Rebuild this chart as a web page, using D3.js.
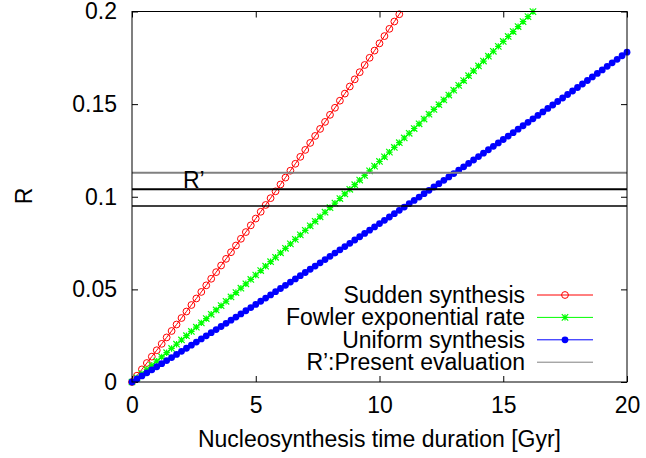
<!DOCTYPE html>
<html>
<head>
<meta charset="utf-8">
<script src="https://cdn.jsdelivr.net/npm/d3@7"></script>
<style>
  html, body { margin: 0; padding: 0; background: #fff; }
  svg { display: block; font-family: "Liberation Sans", Arial, Helvetica, sans-serif; }
</style>
</head>
<body>
<svg id="chart" width="646" height="458"></svg>
<script>
// Synthesis duration grid [Gyr]
const times = [0,0.2,0.4,0.6,0.8,1,1.2,1.4,1.6,1.8,2,2.2,2.4,2.6,2.8,3,3.2,3.4,3.6,3.8,4,4.2,4.4,4.6,4.8,5,5.2,5.4,5.6,5.8,6,6.2,6.4,6.6,6.8,7,7.2,7.4,7.6,7.8,8,8.2,8.4,8.6,8.8,9,9.2,9.4,9.6,9.8,10,10.2,10.4,10.6,10.8,11,11.2,11.4,11.6,11.8,12,12.2,12.4,12.6,12.8,13,13.2,13.4,13.6,13.8,14,14.2,14.4,14.6,14.8,15,15.2,15.4,15.6,15.8,16,16.2,16.4,16.6,16.8,17,17.2,17.4,17.6,17.8,18,18.2,18.4,18.6,18.8,19,19.2,19.4,19.6,19.8,20];

// R for each synthesis model (values beyond the plotted range are left off)
const sudden = [0,0.00341,0.00682,0.01025,0.01369,0.01714,0.02060,0.02406,0.02754,0.03103,0.03453,0.03804,0.04156,0.04508,0.04862,0.05217,0.05573,0.05930,0.06288,0.06647,0.07007,0.07368,0.07730,0.08093,0.08457,0.08823,0.09189,0.09556,0.09924,0.10293,0.10663,0.11034,0.11407,0.11780,0.12154,0.12529,0.12906,0.13283,0.13661,0.14041,0.14421,0.14802,0.15185,0.15568,0.15952,0.16338,0.16724,0.17112,0.17500,0.17890,0.18280,0.18672,0.19064,0.19458,0.19852,0.20248];
const fowler = [0,0.00224,0.00449,0.00675,0.00901,0.01127,0.01354,0.01582,0.01810,0.02039,0.02268,0.02498,0.02729,0.02960,0.03191,0.03423,0.03656,0.03889,0.04123,0.04358,0.04593,0.04828,0.05064,0.05301,0.05538,0.05776,0.06014,0.06253,0.06493,0.06733,0.06973,0.07215,0.07456,0.07699,0.07942,0.08185,0.08429,0.08674,0.08919,0.09164,0.09411,0.09657,0.09905,0.10153,0.10401,0.10650,0.10900,0.11150,0.11401,0.11652,0.11904,0.12156,0.12409,0.12663,0.12917,0.13172,0.13427,0.13683,0.13939,0.14196,0.14454,0.14712,0.14971,0.15230,0.15489,0.15750,0.16011,0.16272,0.16534,0.16797,0.17060,0.17324,0.17588,0.17853,0.18118,0.18384,0.18651,0.18918,0.19185,0.19454,0.19722,0.19992,0.20262];
const uniform = [0,0.00164,0.00329,0.00493,0.00658,0.00824,0.00989,0.01155,0.01321,0.01487,0.01654,0.01821,0.01988,0.02156,0.02324,0.02492,0.02660,0.02829,0.02997,0.03167,0.03336,0.03506,0.03676,0.03846,0.04017,0.04188,0.04359,0.04530,0.04702,0.04874,0.05046,0.05219,0.05392,0.05565,0.05738,0.05912,0.06086,0.06260,0.06435,0.06610,0.06785,0.06960,0.07136,0.07312,0.07488,0.07664,0.07841,0.08018,0.08196,0.08373,0.08551,0.08729,0.08908,0.09086,0.09265,0.09445,0.09624,0.09804,0.09984,0.10165,0.10345,0.10526,0.10708,0.10889,0.11071,0.11253,0.11436,0.11618,0.11801,0.11984,0.12168,0.12352,0.12536,0.12720,0.12905,0.13090,0.13275,0.13460,0.13646,0.13832,0.14019,0.14205,0.14392,0.14579,0.14767,0.14954,0.15142,0.15331,0.15519,0.15708,0.15897,0.16087,0.16276,0.16466,0.16657,0.16847,0.17038,0.17229,0.17420,0.17612,0.17804];

// Present evaluation R' and its bounds (upper, central, lower)
const rPrime = [0.113, 0.104, 0.095];

const xTicks = [0, 5, 10, 15, 20];
const yTicks = [0, 0.05, 0.1, 0.15, 0.2];
const yTickLabels = ["0", "0.05", "0.1", "0.15", "0.2"];

const seriesNames = ["Sudden synthesis", "Fowler exponential rate", "Uniform synthesis"];
const seriesValues = [sudden, fowler, uniform];
const seriesColors = ["#ff0000", "#00ff00", "#0000ff"];
const seriesMarks = ["circle", "star", "dot"];
const rPrimeLabel = "R\u2019:Present evaluation";

const W = 646, H = 458;
const m = { left: 132, right: 19, top: 11.5, bottom: 76 };
const x0 = m.left, x1 = W - m.right, y0 = H - m.bottom, y1 = m.top;
const FS = 23;

const svg = d3.select("#chart");
const x = d3.scaleLinear().domain([0, 20]).range([x0, x1]);
const y = d3.scaleLinear().domain([0, 0.2]).range([y0, y1]);

svg.append("defs").append("clipPath").attr("id", "plotclip")
  .append("rect").attr("x", x0).attr("y", y1).attr("width", x1 - x0).attr("height", y0 - y1);

// axes with inward ticks, mirrored on top and right
const axB = d3.axisBottom(x).tickValues(xTicks).tickFormat(d3.format("d"))
  .tickSizeInner(-6).tickSizeOuter(0).tickPadding(14.5);
const axT = d3.axisTop(x).tickValues(xTicks).tickFormat("").tickSizeInner(-6).tickSizeOuter(0);
const axL = d3.axisLeft(y).tickValues(yTicks).tickFormat((d, i) => yTickLabels[i])
  .tickSizeInner(-6).tickSizeOuter(0).tickPadding(15);
const axR = d3.axisRight(y).tickValues(yTicks).tickFormat("").tickSizeInner(-6).tickSizeOuter(0);

function styleAxis(g) {
  g.select(".domain").remove();
  g.selectAll(".tick line").attr("stroke", "#000").attr("stroke-width", 1);
  g.selectAll(".tick text").attr("fill", "#000").style("font-size", FS + "px")
    .style("font-family", "'Liberation Sans', Arial, Helvetica, sans-serif");
}
svg.append("g").attr("transform", `translate(0,${y0})`).call(axB).call(styleAxis);
svg.append("g").attr("transform", `translate(0,${y1})`).call(axT).call(styleAxis);
svg.append("g").attr("transform", `translate(${x0},0)`).call(axL).call(styleAxis);
svg.append("g").attr("transform", `translate(${x1},0)`).call(axR).call(styleAxis);

// marker shapes
function drawMark(g, kind, color, cx, cy) {
  if (kind === "circle") {
    g.append("circle").attr("cx", cx).attr("cy", cy).attr("r", 3.4)
      .attr("fill", "none").attr("stroke", color).attr("stroke-width", 1);
  } else if (kind === "dot") {
    g.append("circle").attr("cx", cx).attr("cy", cy).attr("r", 3.4).attr("fill", color);
  } else {
    const s = 3.2;
    g.append("path")
      .attr("d", `M${cx - s},${cy}H${cx + s}M${cx},${cy - s}V${cy + s}` +
                 `M${cx - s},${cy - s}L${cx + s},${cy + s}M${cx - s},${cy + s}L${cx + s},${cy - s}`)
      .attr("stroke", color).attr("stroke-width", 1.2).attr("fill", "none");
  }
}

const line = d3.line().x(d => x(d[0])).y(d => y(d[1]));

seriesValues.forEach((vals, i) => {
  const pts = vals.map((v, k) => [times[k], v]);
  const g = svg.append("g");
  g.append("path").attr("d", line(pts)).attr("clip-path", "url(#plotclip)")
    .attr("fill", "none").attr("stroke", seriesColors[i]).attr("stroke-width", 1);
  pts.filter(p => p[1] <= 0.2).forEach(p => drawMark(g, seriesMarks[i], seriesColors[i], x(p[0]), y(p[1])));
});

// R' band
const rStyles = [
  { stroke: "#808080", width: 2 },
  { stroke: "#000", width: 2 },
  { stroke: "#000", width: 1.3 }
];
rPrime.forEach((r, i) => {
  svg.append("line").attr("x1", x0).attr("x2", x1).attr("y1", y(r)).attr("y2", y(r))
    .attr("stroke", rStyles[i].stroke).attr("stroke-width", rStyles[i].width);
});
svg.append("text").attr("x", 183).attr("y", y(rPrime[1]) - 1)
  .style("font-size", FS + "px").text("R\u2019");

// frame
svg.append("rect").attr("x", x0).attr("y", y1).attr("width", x1 - x0).attr("height", y0 - y1)
  .attr("fill", "none").attr("stroke", "#000").attr("stroke-width", 1);

// axis titles
svg.append("text").attr("x", (x0 + x1) / 2).attr("y", 447).attr("text-anchor", "middle")
  .style("font-size", FS + "px").text("Nucleosynthesis time duration [Gyr]");
svg.append("text").attr("transform", "translate(32,196) rotate(-90)").attr("text-anchor", "middle")
  .style("font-size", FS + "px").text("R");

// key
const keyTextRight = 525, sampleL = 537, sampleR = 593, keyBase = 303, keyStep = 22.4;
const keyNames = seriesNames.concat([rPrimeLabel]);
keyNames.forEach((name, i) => {
  const base = keyBase + i * keyStep;
  const cy = base - 8;
  svg.append("text").attr("x", keyTextRight).attr("y", base).attr("text-anchor", "end")
    .style("font-size", FS + "px").text(name);
  const g = svg.append("g");
  const col = i < 3 ? seriesColors[i] : "#808080";
  g.append("line").attr("x1", sampleL).attr("x2", sampleR).attr("y1", cy).attr("y2", cy)
    .attr("stroke", col).attr("stroke-width", 1);
  if (i < 3) drawMark(g, seriesMarks[i], col, (sampleL + sampleR) / 2, cy);
});
</script>
</body>
</html>
